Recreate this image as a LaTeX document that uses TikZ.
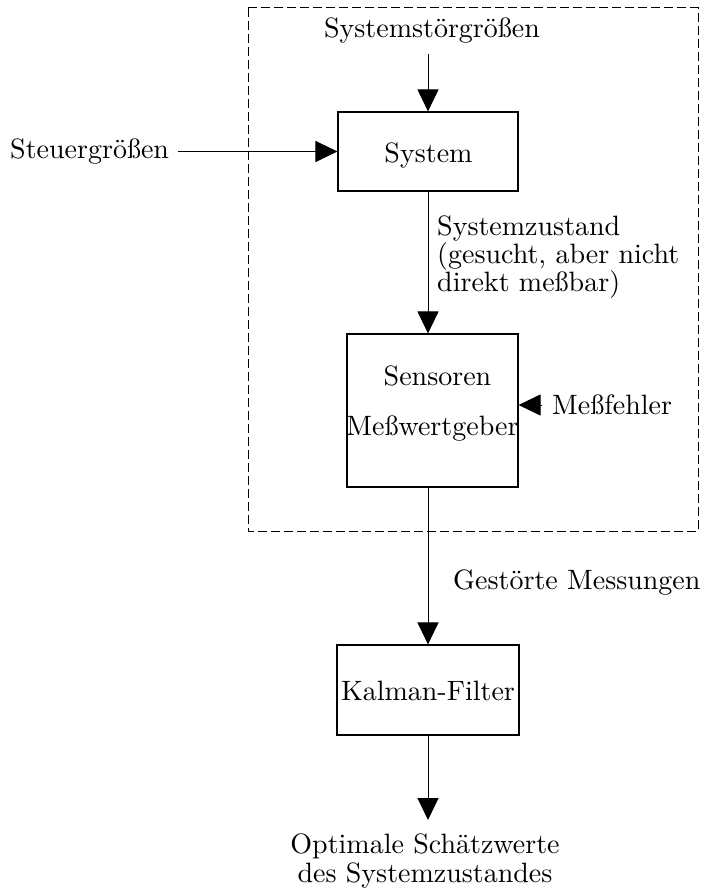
\documentclass[tikz,border=0pt]{standalone}
\usetikzlibrary{arrows.meta}
\newcommand\tx[1]{\scalebox{2.8}{#1}}
\begin{document}
\begin{tikzpicture}[x=1pt,y=-1pt,
  txt/.style={font=\fontsize{10}{8.57}\selectfont, inner sep=0pt},
  txtwide/.style={font=\fontsize{10}{10.36}\selectfont, inner sep=0pt},
  blk/.style={draw, line width=1.1pt, inner sep=0pt},
  arr/.style={line width=1pt, -{Triangle[length=22pt,width=21pt]}},
  frame/.style={line width=1pt, dash pattern=on 9pt off 4pt}]
\useasboundingbox (0,0) rectangle (704,888);
% dashed system boundary
\draw[frame] (248,8) rectangle (698,531);
% blocks
\node[blk, minimum width=180pt, minimum height=79pt] (sys) at (428,151.5) {};
\node[txt, anchor=base] (systxt) at (428.5,162) {\tx{System}};
\node[blk, minimum width=171pt, minimum height=153pt] (sens) at (432.5,410.5) {};
\node[txt, anchor=base] (sensA) at (437.5,385) {\tx{Sensoren}};
\node[txt, anchor=base] (sensB) at (432.5,435) {\tx{Meßwertgeber}};
\node[blk, minimum width=182pt, minimum height=90pt] (kal) at (428,690) {};
\node[txt, anchor=base] (kaltxt) at (428,700) {\tx{Kalman-Filter}};
% texts
\node[txt, anchor=base] (dist) at (432,38) {\tx{Systemstörgrößen}};
\node[txt, anchor=base west] (steu) at (10,158) {\tx{Steuergrößen}};
\node[txt, anchor=base west] (zust) at (437,235) {\tx{\begin{tabular}[t]{@{}l@{}}Systemzustand\\(gesucht, aber nicht\\direkt meßbar)\end{tabular}}};
\node[txt, anchor=base west] (mess) at (552,414) {\tx{Meßfehler}};
\node[txt, anchor=base west] (gest) at (453,589) {\tx{Gestörte Messungen}};
\node[txtwide, anchor=base] (opt) at (425,853) {\tx{\begin{tabular}[t]{@{}c@{}}Optimale Schätzwerte\\des Systemzustandes\end{tabular}}};
% connectors
\coordinate (d0) at (428,54);
\coordinate (s0) at (178,151.5);
\coordinate (m0) at (542,405);
\coordinate (o0) at (428,820);
\draw[arr] (d0) -- (d0 |- sys.north);
\draw[arr] (s0) -- (sys.west);
\draw[arr] (sys.south) -- (sys.south |- sens.north);
\draw[arr] (m0) -- (sens.east |- m0);
\draw[arr] (kal.north |- sens.south) -- (kal.north);
\draw[arr] (kal.south) -- (o0);
\end{tikzpicture}
\end{document}
